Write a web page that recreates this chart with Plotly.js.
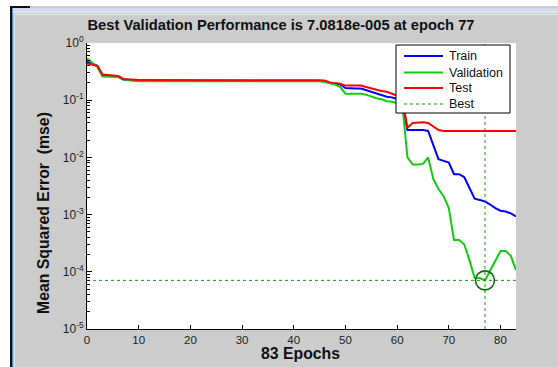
<!DOCTYPE html>
<html>
<head>
<meta charset="utf-8">
<script src="https://cdn.plot.ly/plotly-3.0.1.min.js"></script>
<style>
html,body{margin:0;padding:0;background:#fff;}
#wrap{position:relative;width:558px;height:367px;overflow:hidden;background:#fff;}
#plot{position:absolute;left:0;top:0;width:558px;height:367px;}
.ov{position:absolute;pointer-events:none;}
</style>
</head>
<body>
<div id="wrap">
<div id="plot"></div>
<div class="ov" style="left:0;top:0;width:10px;height:367px;background:#fff"></div>
<div class="ov" style="left:0;top:0;width:558px;height:6px;background:#fff"></div>
<div class="ov" style="left:10px;top:8px;width:548px;height:5px;background:linear-gradient(#c9d8e8,#dde6ef)"></div>
<div class="ov" style="left:10px;top:6px;width:2px;height:361px;background:#111"></div>
<div class="ov" style="left:10px;top:6px;width:20px;height:2px;background:#111"></div>
<div class="ov" style="left:12px;top:8px;width:1px;height:359px;background:#5f8dc0"></div>
<div class="ov" style="left:13px;top:13px;width:1px;height:354px;background:#b8b8b8"></div>
<div class="ov" style="left:14px;top:14px;width:1px;height:353px;background:#e6e6e6"></div>
<div class="ov" style="left:14px;top:14px;width:544px;height:1px;background:#e6e6e6"></div>
</div>
<script>
// ---- data ----
const epochs = Array.from({length: 84}, (_, i) => i);

const train = [
  0.47, 0.43, 0.40, 0.27, 0.27, 0.265, 0.26, 0.23, 0.225, 0.222,
  0.222, 0.222, 0.222, 0.222, 0.222, 0.222, 0.222, 0.221, 0.221, 0.221,
  0.221, 0.221, 0.221, 0.221, 0.221, 0.221, 0.221, 0.221, 0.221, 0.221,
  0.221, 0.221, 0.221, 0.221, 0.221, 0.221, 0.221, 0.221, 0.221, 0.221,
  0.221, 0.221, 0.221, 0.221, 0.221, 0.221, 0.213, 0.200, 0.195, 0.188,
  0.163, 0.160, 0.160, 0.160, 0.150, 0.140, 0.130, 0.125, 0.115, 0.112,
  0.105, 0.090, 0.030, 0.030, 0.030, 0.030, 0.029, 0.017, 0.0093, 0.0087,
  0.0081, 0.0051, 0.0051, 0.0045, 0.0029, 0.0019, 0.0018, 0.0017, 0.0015, 0.0013,
  0.00117, 0.00113, 0.00105, 0.00093
];

const validation = [
  0.54, 0.45, 0.38, 0.26, 0.26, 0.26, 0.255, 0.23, 0.222, 0.218,
  0.215, 0.215, 0.215, 0.215, 0.215, 0.215, 0.215, 0.215, 0.215, 0.215,
  0.215, 0.215, 0.215, 0.215, 0.215, 0.215, 0.215, 0.215, 0.215, 0.215,
  0.215, 0.215, 0.215, 0.215, 0.215, 0.215, 0.215, 0.215, 0.215, 0.215,
  0.215, 0.215, 0.215, 0.215, 0.215, 0.215, 0.208, 0.195, 0.188, 0.170,
  0.130, 0.130, 0.130, 0.130, 0.125, 0.115, 0.108, 0.104, 0.096, 0.094,
  0.090, 0.085, 0.0100, 0.0075, 0.0075, 0.0077, 0.0100, 0.0042, 0.0028, 0.0021,
  0.0013, 0.00036, 0.00036, 0.00030, 0.00016, 0.000078, 0.000078, 0.000070818, 0.000105, 0.00016,
  0.00023, 0.00023, 0.00019, 0.000107
];

const test = [
  0.44, 0.42, 0.40, 0.28, 0.275, 0.27, 0.265, 0.235, 0.23, 0.225,
  0.225, 0.225, 0.225, 0.225, 0.225, 0.225, 0.225, 0.225, 0.225, 0.225,
  0.225, 0.225, 0.225, 0.225, 0.225, 0.225, 0.225, 0.225, 0.225, 0.225,
  0.225, 0.225, 0.225, 0.225, 0.225, 0.225, 0.225, 0.225, 0.225, 0.225,
  0.225, 0.225, 0.225, 0.225, 0.225, 0.225, 0.220, 0.205, 0.200, 0.195,
  0.180, 0.180, 0.180, 0.180, 0.170, 0.160, 0.150, 0.145, 0.140, 0.130,
  0.120, 0.105, 0.033, 0.040, 0.041, 0.041, 0.040, 0.034, 0.030, 0.029,
  0.029, 0.029, 0.029, 0.029, 0.029, 0.029, 0.029, 0.029, 0.029, 0.029,
  0.029, 0.029, 0.029, 0.029
];

const bestEpoch = 77;
const bestValue = 7.0818e-5;
const xTicks = [0, 10, 20, 30, 40, 50, 60, 70, 80];
const yTicks = [1e-5, 1e-4, 1e-3, 1e-2, 1e-1, 1];
const yTickText = ['10<sup>-5</sup>', '10<sup>-4</sup>', '10<sup>-3</sup>', '10<sup>-2</sup>', '10<sup>-1</sup>', '10<sup>0</sup>'];
const legendNames = ['Train', 'Validation', 'Test', 'Best'];
const xRange = [0, 83];
const yRangeLog = [-5, 0];

// ---- build ----
const minorVals = [];
for (let e = -5; e < 0; e++) for (let k = 2; k <= 9; k++) minorVals.push(k * Math.pow(10, e));

const font = 'Arial, "Liberation Sans", sans-serif';
const styles = [
  {color: '#0000ff', width: 2},
  {color: '#11cc11', width: 2},
  {color: '#ff0000', width: 2},
  {color: '#119911', width: 1, dash: '3px,3px'}
];
const traces = [
  {x: epochs, y: train, name: legendNames[0], mode: 'lines', line: styles[0]},
  {x: epochs, y: validation, name: legendNames[1], mode: 'lines', line: styles[1]},
  {x: epochs, y: test, name: legendNames[2], mode: 'lines', line: styles[2]},
  {x: [bestEpoch, bestEpoch, null, xRange[0], xRange[1]],
   y: [Math.pow(10, yRangeLog[0]), Math.pow(10, yRangeLog[1]), null, bestValue, bestValue],
   name: legendNames[3], mode: 'lines', line: styles[3]},
  {x: [bestEpoch], y: [bestValue], mode: 'markers', hoverinfo: 'skip',
   marker: {symbol: 'circle-open', size: 19, color: '#0a6e0a', line: {width: 1.6, color: '#0a6e0a'}}}
];

// manual legend (pixel geometry converted to paper coords)
const PL = 87, PW = 429, PT = 43, PH = 286;
const px = v => (v - PL) / PW;
const py = v => 1 - (v - PT) / PH;
const shapes = [{type: 'rect', xref: 'paper', yref: 'paper', x0: px(396), x1: px(510), y0: py(45), y1: py(113),
                 fillcolor: '#ffffff', line: {color: '#000', width: 1}, layer: 'above'}];
const annotations = [];
const rowsY = [56, 72.5, 88, 104];
legendNames.forEach((nm, i) => {
  shapes.push({type: 'line', xref: 'paper', yref: 'paper', x0: px(404), x1: px(443), y0: py(rowsY[i]), y1: py(rowsY[i]),
               line: {color: styles[i].color, width: styles[i].width, dash: styles[i].dash || 'solid'}, layer: 'above'});
  annotations.push({text: nm, showarrow: false, xref: 'paper', yref: 'paper', x: px(447), y: py(rowsY[i]),
                    xanchor: 'left', yanchor: 'middle', font: {family: font, size: 12.5, color: '#111'}});
});
annotations.push(
  {text: '83 Epochs', showarrow: false, xref: 'paper', yref: 'paper',
   x: 0.497, y: py(353), xanchor: 'center', yanchor: 'middle',
   font: {family: font, size: 15.8, color: '#111', weight: 'bold'}},
  {text: 'Mean Squared Error  (mse)', showarrow: false, xref: 'paper', yref: 'paper', textangle: -90,
   x: px(43), y: py(213), xanchor: 'center', yanchor: 'middle',
   font: {family: font, size: 15.8, color: '#111', weight: 'bold'}}
);

const layout = {
  width: 558, height: 367,
  margin: {l: 87, r: 42, t: 43, b: 38, pad: 0},
  paper_bgcolor: '#cccccc',
  plot_bgcolor: '#ffffff',
  font: {family: font, color: '#111'},
  showlegend: false,
  title: {text: 'Best Validation Performance is 7.0818e-005 at epoch 77',
          font: {family: font, size: 14.7, color: '#111', weight: 'bold'},
          x: 281 / 558, xref: 'container', xanchor: 'center',
          y: 1 - 25 / 367, yref: 'container', yanchor: 'middle'},
  xaxis: {range: xRange, tickvals: xTicks, ticks: 'inside', ticklen: 4, tickcolor: '#000',
          showline: true, linecolor: '#000', linewidth: 1, mirror: false, showgrid: false, zeroline: false,
          tickfont: {family: font, size: 11.5, color: '#222'}, fixedrange: true},
  yaxis: {type: 'log', range: yRangeLog, tickvals: yTicks, ticktext: yTickText,
          ticks: 'inside', ticklen: 5, tickcolor: '#000',
          minor: {tickvals: minorVals, ticks: 'inside', ticklen: 3, tickcolor: '#000', showgrid: false},
          showline: true, linecolor: '#000', linewidth: 1, mirror: false, showgrid: false, zeroline: false,
          tickfont: {family: font, size: 12, color: '#222'}, fixedrange: true},
  shapes: shapes,
  annotations: annotations
};

Plotly.newPlot('plot', traces, layout, {displayModeBar: false, staticPlot: true});
</script>
</body>
</html>
